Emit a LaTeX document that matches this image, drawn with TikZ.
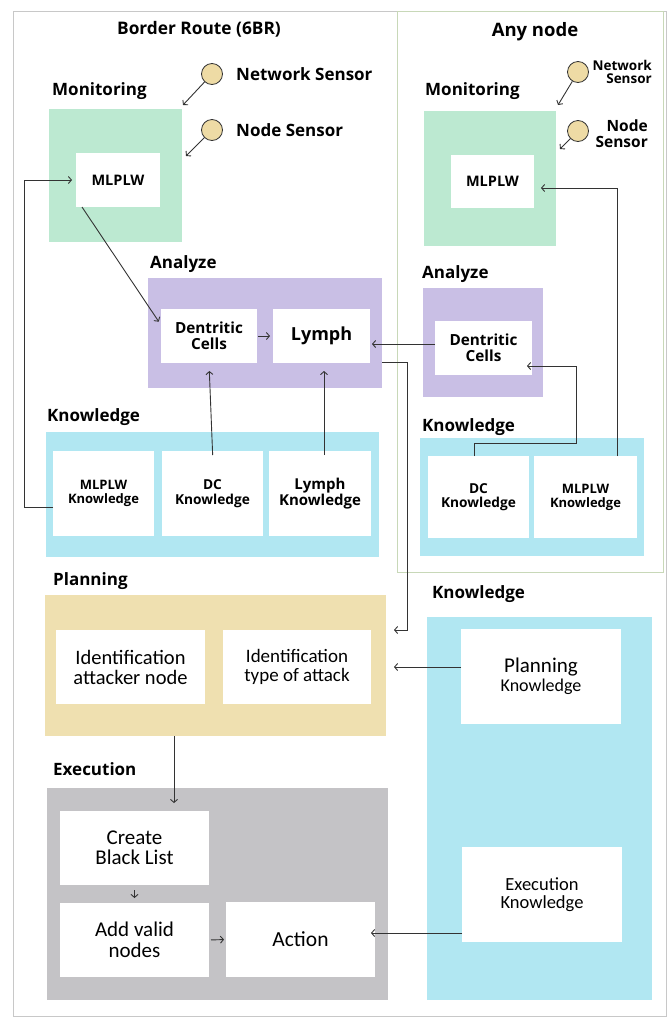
\documentclass[tikz,border=0pt]{standalone}
\usepackage{fontspec}
\setmainfont{Open Sans}
\newfontfamily\calfont{Carlito}
\usetikzlibrary{arrows.meta}
\definecolor{mint}{HTML}{BCE9D1}
\definecolor{lav}{HTML}{C9BFE5}
\definecolor{cyanb}{HTML}{B1E7F2}
\definecolor{tan}{HTML}{EFE0B0}
\definecolor{grayb}{HTML}{C4C3C6}
\definecolor{sand}{HTML}{EEDBA5}
\definecolor{linec}{HTML}{333333}
\definecolor{outerc}{HTML}{C8C8C8}
\definecolor{panelc}{HTML}{C8D8B8}
\tikzset{
  cont/.style={draw=none, inner sep=0pt, outer sep=0pt, anchor=north west},
  wbox/.style={fill=white, inner sep=0pt, outer sep=0pt, anchor=north west, align=center, font=\bfseries\fontsize{14.5}{16}\selectfont},
  pbox/.style={fill=white, inner sep=0pt, outer sep=0pt, anchor=north west, align=center, font=\calfont\fontsize{20}{19}\selectfont},
  head/.style={anchor=west, inner sep=0pt, font=\bfseries\fontsize{17}{20}\selectfont},
  sensor/.style={circle, draw=linec, line width=0.8pt, fill=sand, minimum size=21pt, inner sep=0pt},
  arr/.style={draw=linec, line width=0.9pt, -{Straight Barb[length=3pt,width=7pt]}},
}
\begin{document}
\begin{tikzpicture}[x=1pt,y=-1pt]
\useasboundingbox (0,0) rectangle (670,1018);
% frames
\node[cont, draw=outerc, line width=1pt, minimum width=653pt, minimum height=1005pt] (outer) at (13,11) {};
\node[cont, draw=panelc, line width=1pt, minimum width=266pt, minimum height=561pt] (panel) at (397,11) {};
\node[font=\bfseries\fontsize{17.3}{20}\selectfont, inner sep=0pt] (t1) at (199,29) {Border Route (6BR)};
\node[font=\bfseries\fontsize{18.5}{20}\selectfont, inner sep=0pt] (t2) at (535,32) {Any node};

% ---------- left: Border Route ----------
\node[head] (hmonL) at (52,91) {Monitoring};
\node[cont, fill=mint, minimum width=133pt, minimum height=133pt] (monL) at (49,109) {};
\node[wbox, minimum width=84pt, minimum height=54pt] (mlplwL) at (76,153) {MLPLW};

\node[sensor] (s1) at (212,74) {};
\node[sensor] (s2) at (212,130) {};
\node[anchor=west, inner sep=0pt, font=\bfseries\fontsize{17}{20}\selectfont] (s1t) at (236,74) {Network Sensor};
\node[anchor=west, inner sep=0pt, font=\bfseries\fontsize{17}{20}\selectfont] (s2t) at (236,130) {Node Sensor};
\coordinate (s1e) at (183,105);
\coordinate (s2e) at (186,156);

\node[head] (hanaL) at (150,264) {Analyze};
\node[cont, fill=lav, minimum width=234pt, minimum height=110pt] (anaL) at (148,278) {};
\node[wbox, minimum width=96pt, minimum height=54pt, font=\bfseries\fontsize{15.3}{15.5}\selectfont] (dcL) at (161,309) {Dentritic\\Cells};
\node[wbox, minimum width=97pt, minimum height=54pt, font=\bfseries\fontsize{18}{20}\selectfont] (lymph) at (273,309) {Lymph};

\node[head] (hknL) at (47,417) {Knowledge};
\node[cont, fill=cyanb, minimum width=333pt, minimum height=125pt] (knL) at (46,432) {};
\node[wbox, minimum width=101pt, minimum height=85pt, font=\bfseries\fontsize{13}{14}\selectfont] (mkL) at (53,451) {MLPLW\\Knowledge};
\node[wbox, minimum width=101pt, minimum height=85pt, font=\bfseries\fontsize{13.7}{14.5}\selectfont] (dckL) at (162,451) {DC\\Knowledge};
\node[wbox, minimum width=102pt, minimum height=85pt, font=\bfseries\fontsize{15}{16}\selectfont] (lkL) at (269,451) {Lymph\\Knowledge};

% ---------- right: Any node ----------
\node[head] (hmonR) at (425,91) {Monitoring};
\node[cont, fill=mint, minimum width=132pt, minimum height=135pt] (monR) at (424,111) {};
\node[wbox, minimum width=83pt, minimum height=53pt] (mlplwR) at (451,155) {MLPLW};

\node[sensor] (s3) at (578,72) {};
\node[sensor] (s4) at (578,131) {};
\node[anchor=east, align=right, inner sep=0pt, font=\bfseries\fontsize{13.5}{13.5}\selectfont] (s3t) at (652,72) {Network\\Sensor};
\node[anchor=east, align=right, inner sep=0pt, font=\bfseries\fontsize{15.5}{16}\selectfont] (s4t) at (648,134) {Node\\Sensor};
\coordinate (s3e) at (558,105);
\coordinate (s4e) at (560,149);

\node[head] (hanaR) at (422,274) {Analyze};
\node[cont, fill=lav, minimum width=120pt, minimum height=109pt] (anaR) at (423,288) {};
\node[wbox, minimum width=97pt, minimum height=54pt, font=\bfseries\fontsize{15.3}{15.5}\selectfont] (dcR) at (435,321) {Dentritic\\Cells};

\node[head] (hknR) at (422,427) {Knowledge};
\node[cont, fill=cyanb, minimum width=224pt, minimum height=118pt] (knR) at (420,438) {};
\node[wbox, minimum width=101pt, minimum height=82pt, font=\bfseries\fontsize{13.7}{14.5}\selectfont] (dckR) at (428,456) {DC\\Knowledge};
\node[wbox, minimum width=103pt, minimum height=82pt, font=\bfseries\fontsize{13}{14}\selectfont] (mkR) at (534,456) {MLPLW\\Knowledge};

% ---------- planning / execution ----------
\node[head] (hplan) at (53,581) {Planning};
\node[cont, fill=tan, minimum width=341pt, minimum height=141pt] (plan) at (45,595) {};
\node[pbox, minimum width=149pt, minimum height=74pt, font=\calfont\fontsize{20.5}{20}\selectfont] (ian) at (56,630) {Identification\\attacker node};
\node[pbox, minimum width=148pt, minimum height=74pt, font=\calfont\fontsize{19}{18.5}\selectfont] (ita) at (223,630) {Identification\\type of attack};

\node[head] (hknB) at (432,594) {Knowledge};
\node[cont, fill=cyanb, minimum width=225pt, minimum height=383pt] (knB) at (427,617) {};
\node[pbox, minimum width=160pt, minimum height=95pt] (pk) at (461,629) {{\fontsize{21}{20}\selectfont Planning}\\{\fontsize{18}{19}\selectfont Knowledge}};
\node[pbox, minimum width=160pt, minimum height=95pt, font=\calfont\fontsize{18.5}{18}\selectfont] (ek) at (462,847) {Execution\\Knowledge};

\node[head] (hexe) at (53,769) {Execution};
\node[cont, fill=grayb, minimum width=341pt, minimum height=212pt] (exe) at (47,788) {};
\node[pbox, minimum width=149pt, minimum height=74pt, font=\calfont\fontsize{21}{20.5}\selectfont] (cbl) at (60,811) {Create\\Black List};
\node[pbox, minimum width=149pt, minimum height=74pt, font=\calfont\fontsize{21}{20.5}\selectfont] (avn) at (60,903) {Add valid\\nodes};
\node[pbox, minimum width=149pt, minimum height=75pt, font=\calfont\fontsize{21.5}{20}\selectfont] (act) at (226,902) {Action};

% ---------- connectors ----------
\draw[arr] (s1) -- (s1e);
\draw[arr] (s2) -- (s2e);
\draw[arr] (s3) -- (s3e);
\draw[arr] (s4) -- (s4e);

\draw[arr, shorten >=4pt] ([xshift=6pt]mlplwL.south west) -- ([yshift=11pt]dcL.west);
\draw[arr, shorten <=1pt, shorten >=3pt] (dcL.east) -- (lymph.west);
\draw[arr, shorten <=-4pt, shorten >=8pt] (dckL.north) -- (dcL.south);
\draw[arr, shorten <=-4pt, shorten >=8pt] ([xshift=4pt]lkL.north) -- ([xshift=4pt]lkL.north |- lymph.south);
\draw[arr, shorten >=4pt] ([yshift=-13.5pt]mkL.west) -- ++(-29,0) |- (mlplwL.west);

\draw[arr, shorten >=7pt] ([xshift=31.5pt]mkR.north) |- ([yshift=-6.5pt]mlplwR.east);
\draw[arr, shorten >=2pt] ([yshift=4pt]dcR.west) -- ([yshift=4pt]dcR.west -| lymph.east);
\draw[arr] ([xshift=-4.5pt]dckR.north) -- ++(0,-13) -- ++(102,0) |- ([xshift=-5pt,yshift=-18pt]dcR.east);
\draw[arr, shorten >=8pt] ([yshift=-29pt]anaL.east) -- ++(25,0) |- ([yshift=35.5pt]plan.east);

\draw[arr, shorten >=8pt] ([yshift=9.5pt]pk.west) -- ([yshift=9.5pt]pk.west -| plan.east);
\draw[arr, shorten >=8pt] ([xshift=-41.5pt]plan.south) -- ([xshift=39.5pt]cbl.north);
\draw[arr, shorten <=5pt, shorten >=5pt] (cbl.south) -- (avn.north);
\draw[arr, shorten <=2pt, shorten >=2pt] (avn.east) -- (act.west);
\draw[arr, shorten >=-4pt] ([yshift=-38.5pt]ek.west) -- ([yshift=-38.5pt]ek.west -| act.east);
\end{tikzpicture}
\end{document}
